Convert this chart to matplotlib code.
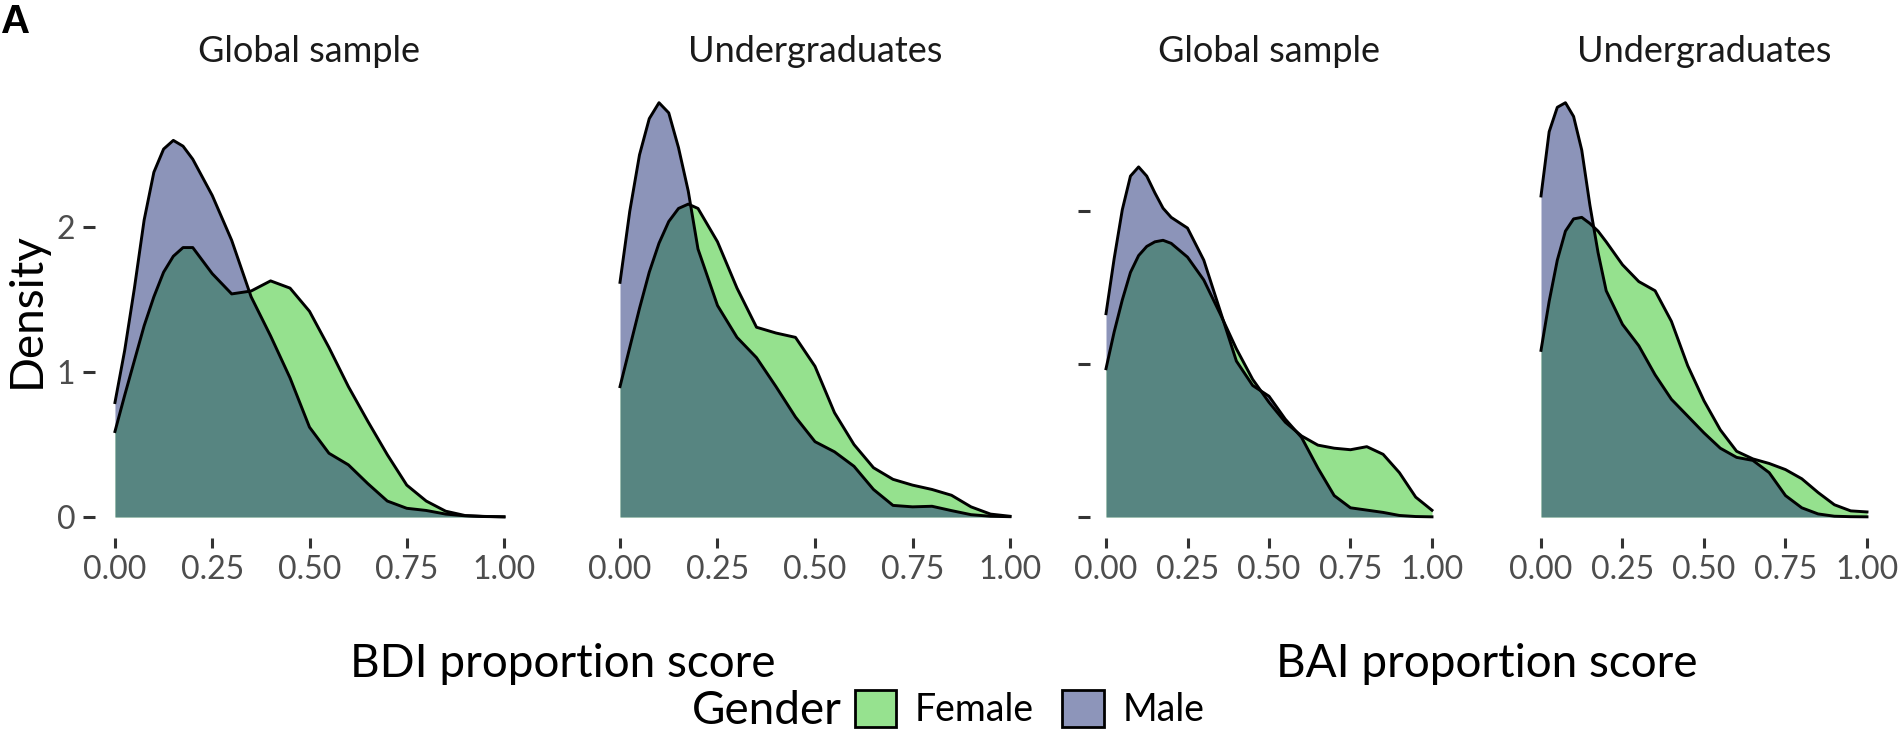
import matplotlib.pyplot as plt
from matplotlib.patches import Patch

plt.rcParams['font.family'] = ['Lato', 'DejaVu Sans']

# proportion score grid the curves were read at
score = [0, 0.025, 0.05, 0.075, 0.1, 0.125, 0.15, 0.175, 0.2,
         0.25, 0.3, 0.35, 0.4, 0.45, 0.5, 0.55, 0.6, 0.65, 0.7,
         0.75, 0.8, 0.85, 0.9, 0.95, 1.0]

# BDI, global sample
bdi_glob_female = [0.59, 0.84, 1.08, 1.32, 1.52, 1.69, 1.80, 1.86, 1.86,
                   1.68, 1.54, 1.56, 1.63, 1.58, 1.42, 1.17, 0.90, 0.66, 0.43,
                   0.22, 0.11, 0.04, 0.01, 0.004, 0.001]
bdi_glob_male = [0.79, 1.15, 1.58, 2.05, 2.38, 2.54, 2.60, 2.56, 2.47,
                 2.22, 1.91, 1.52, 1.25, 0.96, 0.62, 0.44, 0.36, 0.23, 0.11,
                 0.06, 0.045, 0.02, 0.008, 0.003, 0.001]
# BDI, undergraduates
bdi_ug_female = [0.90, 1.17, 1.44, 1.69, 1.89, 2.04, 2.13, 2.16, 2.13,
                 1.90, 1.58, 1.31, 1.27, 1.24, 1.04, 0.72, 0.50, 0.34, 0.26,
                 0.22, 0.19, 0.15, 0.07, 0.02, 0.005]
bdi_ug_male = [1.62, 2.11, 2.50, 2.75, 2.86, 2.79, 2.55, 2.25, 1.85,
               1.46, 1.24, 1.10, 0.90, 0.69, 0.52, 0.45, 0.35, 0.19, 0.08,
               0.07, 0.074, 0.044, 0.016, 0.005, 0.002]
# BAI, global sample
bai_glob_female = [0.97, 1.21, 1.42, 1.60, 1.71, 1.77, 1.80, 1.81, 1.79,
                   1.70, 1.55, 1.33, 1.10, 0.90, 0.75, 0.62, 0.53, 0.47, 0.45,
                   0.44, 0.46, 0.41, 0.29, 0.13, 0.044]
bai_glob_male = [1.33, 1.69, 2.01, 2.23, 2.29, 2.23, 2.12, 2.02, 1.96,
                 1.89, 1.68, 1.35, 1.02, 0.86, 0.79, 0.64, 0.52, 0.32, 0.14,
                 0.06, 0.045, 0.03, 0.01, 0.003, 0.001]
# BAI, undergraduates
bai_ug_female = [1.09, 1.41, 1.68, 1.87, 1.95, 1.96, 1.92, 1.87, 1.80,
                 1.65, 1.54, 1.48, 1.28, 0.99, 0.76, 0.57, 0.43, 0.38, 0.35,
                 0.31, 0.25, 0.16, 0.08, 0.04, 0.033]
bai_ug_male = [2.10, 2.52, 2.68, 2.71, 2.62, 2.40, 2.04, 1.73, 1.48,
               1.26, 1.12, 0.93, 0.77, 0.66, 0.55, 0.45, 0.39, 0.37, 0.29,
               0.14, 0.06, 0.02, 0.005, 0.002, 0.001]

facets = ["Global sample", "Undergraduates", "Global sample", "Undergraduates"]
genders = ["Female", "Male"]
xticks = [0, 0.25, 0.5, 0.75, 1.0]
xticklabels = ["0.00", "0.25", "0.50", "0.75", "1.00"]

female_col = "#2dc51f"
male_col = "#1b2b75"
alpha = 0.5
tick_col = "#333333"
lab_col = "#4d4d4d"

W, H = 1899, 731
fig = plt.figure(figsize=(W / 100, H / 100), dpi=100)

# panel boxes in pixels (left, right); shared top/bottom
boxes = [(95.5, 523.5), (600.5, 1029.5), (1089.7, 1448.3), (1524.7, 1883.3)]
top_px, bot_px = 82, 537.7
curves = [(bdi_glob_female, bdi_glob_male), (bdi_ug_female, bdi_ug_male),
          (bai_glob_female, bai_glob_male), (bai_ug_female, bai_ug_male)]

for i, ((l, r), (fem, mal)) in enumerate(zip(boxes, curves)):
    ax = fig.add_axes([l / W, 1 - bot_px / H, (r - l) / W, (bot_px - top_px) / H])
    for vals, col in [(fem, female_col), (mal, male_col)]:
        ax.fill_between(score, 0, vals, color=col, alpha=alpha, lw=0)
        ax.plot(score, vals, color="black", lw=2.1, solid_joinstyle="round")
    ax.set_xlim(-0.05, 1.05)
    # each half of the figure has its own y scale (two separate facet plots)
    if i < 2:
        ymax = max(max(bdi_ug_male), max(bdi_glob_male))
    else:
        ymax = max(max(bai_ug_male), max(bai_glob_male))
    ax.set_ylim(-0.05 * ymax, 1.05 * ymax)
    for s in ax.spines.values():
        s.set_visible(False)
    ax.set_xticks(xticks)
    ax.set_xticklabels(xticklabels)
    ax.tick_params(axis="x", length=7.5, width=2.2, color=tick_col,
                   labelsize=23, labelcolor=lab_col, pad=5)
    if i == 0:
        ax.set_yticks([0, 1, 2])
        ax.set_yticklabels(["0", "1", "2"])
        ax.tick_params(axis="y", length=8.5, width=2.2, color=tick_col,
                       labelsize=23, labelcolor=lab_col, pad=6)
    elif i == 2:
        ax.set_yticks([0, 1, 2])
        ax.set_yticklabels(["", "", ""])
        ax.tick_params(axis="y", length=8.5, width=2.2, color=tick_col)
    else:
        ax.set_yticks([])
    ax.text(0.5, 1.0 + (top_px - 62) / (bot_px - top_px), facets[i],
            transform=ax.transAxes, ha="center", va="baseline",
            fontsize=26, color="#1a1a1a")

fig.text((95.5 + 1029.5) / 2 / W, 1 - 664 / H, "BDI proportion score",
         ha="center", va="center", fontsize=33, color="black")
fig.text((1089.7 + 1883.3) / 2 / W, 1 - 664 / H, "BAI proportion score",
         ha="center", va="center", fontsize=33, color="black")
fig.text(27 / W, 1 - 310 / H, "Density", rotation=90,
         ha="center", va="center", fontsize=33, color="black")

fig.text(1 / W, 1 - 3 / H, "A", ha="left", va="top", fontsize=29,
         fontweight="bold", family="Liberation Sans")

# legend: title on the left, keys in one row
fig.text(842 / W, 1 - 711 / H, "Gender", ha="right", va="center",
         fontsize=33, color="black")
handles = [Patch(facecolor=(0.588, 0.886, 0.561), edgecolor="black", lw=2.0),
           Patch(facecolor=(0.553, 0.584, 0.729), edgecolor="black", lw=2.0)]
fig.legend(handles, genders, ncol=2, loc="center left",
           bbox_to_anchor=(855 / W, 1 - 709 / H), frameon=False,
           fontsize=27, handlelength=1.1, handleheight=1.15,
           handletextpad=0.5, columnspacing=0.75, borderaxespad=0,
           borderpad=0)

fig.savefig("out.png", dpi=100)
